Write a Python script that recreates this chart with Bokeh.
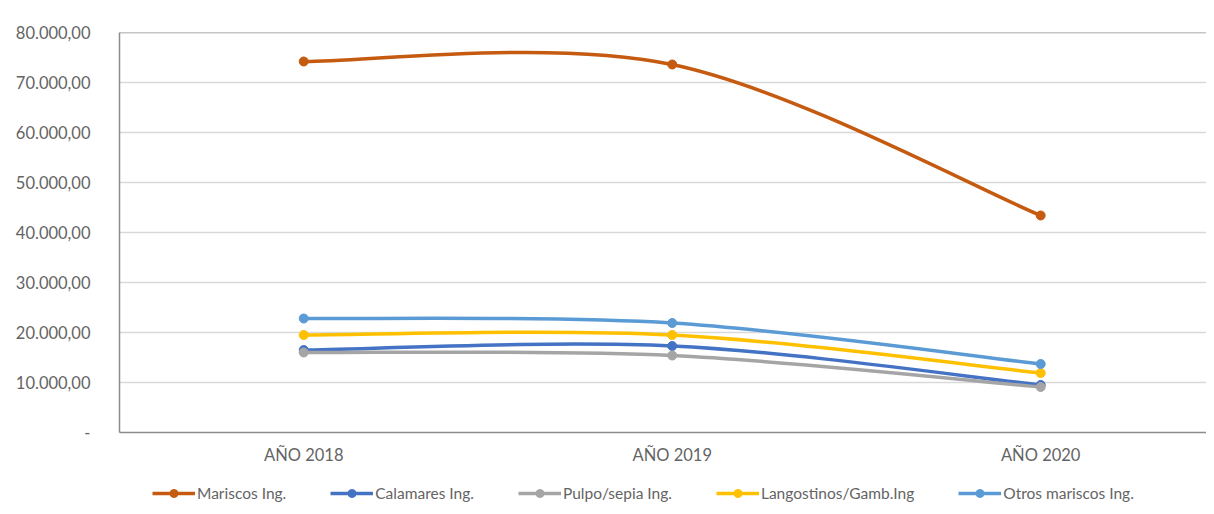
import numpy as np
from bokeh.plotting import figure
from bokeh.layouts import column
from bokeh.models import (Range1d, FixedTicker, Legend, LegendItem, ColumnDataSource, Span)
from bokeh.embed import file_html
from bokeh.resources import INLINE

years = ["AÑO 2018", "AÑO 2019", "AÑO 2020"]
mariscos = [74200, 73600, 43400]
calamares = [16500, 17300, 9500]
pulpo = [16000, 15400, 9100]
langostinos = [19500, 19500, 11900]
otros = [22800, 21900, 13700]

series_names = ["Mariscos Ing.", "Calamares Ing.", "Pulpo/sepia Ing.",
                "Langostinos/Gamb.Ing", "Otros mariscos Ing."]
series_values = [mariscos, calamares, pulpo, langostinos, otros]
series_colors = ["#C55A11", "#4472C4", "#A5A5A5", "#FFC000", "#5B9BD5"]

y_ticks = [0, 10000, 20000, 30000, 40000, 50000, 60000, 70000, 80000]
y_tick_labels = ["-", "10.000,00", "20.000,00", "30.000,00", "40.000,00",
                 "50.000,00", "60.000,00", "70.000,00", "80.000,00"]

FONT = "Lato"
TXT = "#646464"

p = figure(width=1206, height=472, output_backend="svg", toolbar_location=None,
           x_range=Range1d(-0.5, 2.45), y_range=Range1d(0, 80000),
           min_border_left=119, min_border_right=0, min_border_top=32,
           min_border_bottom=40)
p.outline_line_color = None
p.background_fill_color = "white"
p.border_fill_color = "white"

xs = np.arange(len(years), dtype=float)

p.xaxis.ticker = FixedTicker(ticks=list(xs))
p.xaxis.major_label_overrides = {float(i): years[i] for i in range(len(years))}
p.yaxis.ticker = FixedTicker(ticks=y_ticks)
p.yaxis.major_label_overrides = {t: l for t, l in zip(y_ticks, y_tick_labels)}
for ax in (p.xaxis[0], p.yaxis[0]):
    ax.axis_line_color = "#8c8c8c"
    ax.axis_line_width = 1.5
    ax.major_tick_line_color = None
    ax.minor_tick_line_color = None
    ax.major_label_text_font = FONT
    ax.major_label_text_font_size = "16.5px"
    ax.major_label_text_color = TXT
p.yaxis.major_label_standoff = 23
p.xaxis.major_label_standoff = 6
p.xgrid.grid_line_color = None
p.ygrid.grid_line_color = "#D9D9D9"
p.ygrid.grid_line_width = 1.5

p.add_layout(Span(location=80000, dimension="width", line_color="#8c8c8c", line_width=1.5))

# legend-only strip below the chart (its frame is aligned with the chart's frame)
pl = figure(width=1206, height=40, output_backend="svg", toolbar_location=None,
            x_axis_type=None, y_axis_type=None, x_range=Range1d(0, 1), y_range=Range1d(0, 1),
            min_border=0)
pl.outline_line_color = None
pl.xgrid.grid_line_color = None
pl.ygrid.grid_line_color = None

items = []
n = len(xs)
for name, vals, col in zip(series_names, series_values, series_colors):
    v = np.array(vals, dtype=float)
    x0, y0, x1, y1, cx0, cy0, cx1, cy1 = [], [], [], [], [], [], [], []
    for i in range(n - 1):
        ip = max(i - 1, 0)
        inn = min(i + 2, n - 1)
        x0.append(xs[i]); y0.append(v[i]); x1.append(xs[i + 1]); y1.append(v[i + 1])
        cx0.append(xs[i] + (xs[i + 1] - xs[ip]) / 6.0)
        cy0.append(v[i] + (v[i + 1] - v[ip]) / 6.0)
        cx1.append(xs[i + 1] - (xs[inn] - xs[i]) / 6.0)
        cy1.append(v[i + 1] - (v[inn] - v[i]) / 6.0)
    src = ColumnDataSource(dict(x0=x0, y0=y0, x1=x1, y1=y1, cx0=cx0, cy0=cy0, cx1=cx1, cy1=cy1))
    p.bezier(x0="x0", y0="y0", x1="x1", y1="y1", cx0="cx0", cy0="cy0", cx1="cx1", cy1="cy1",
             source=src, line_color=col, line_width=3.5)
    p.scatter(xs, v, marker="circle", size=9, fill_color=col, line_color=col)
    dl = pl.line([np.nan], [np.nan], line_color=col, line_width=3.5)
    ds = pl.scatter([np.nan], [np.nan], marker="circle", size=9, fill_color=col, line_color=col)
    items.append(LegendItem(label=name, renderers=[dl, ds]))

legend = Legend(items=items, orientation="horizontal", location=(33, 9),
                glyph_width=43, glyph_height=20, label_standoff=2, spacing=44,
                padding=0, margin=0, border_line_color=None, background_fill_alpha=0,
                label_text_font=FONT, label_text_font_size="15.5px", label_text_color=TXT)
pl.add_layout(legend, "center")

layout = column(p, pl, spacing=0)
open("out.html", "w").write(file_html(layout, INLINE))
